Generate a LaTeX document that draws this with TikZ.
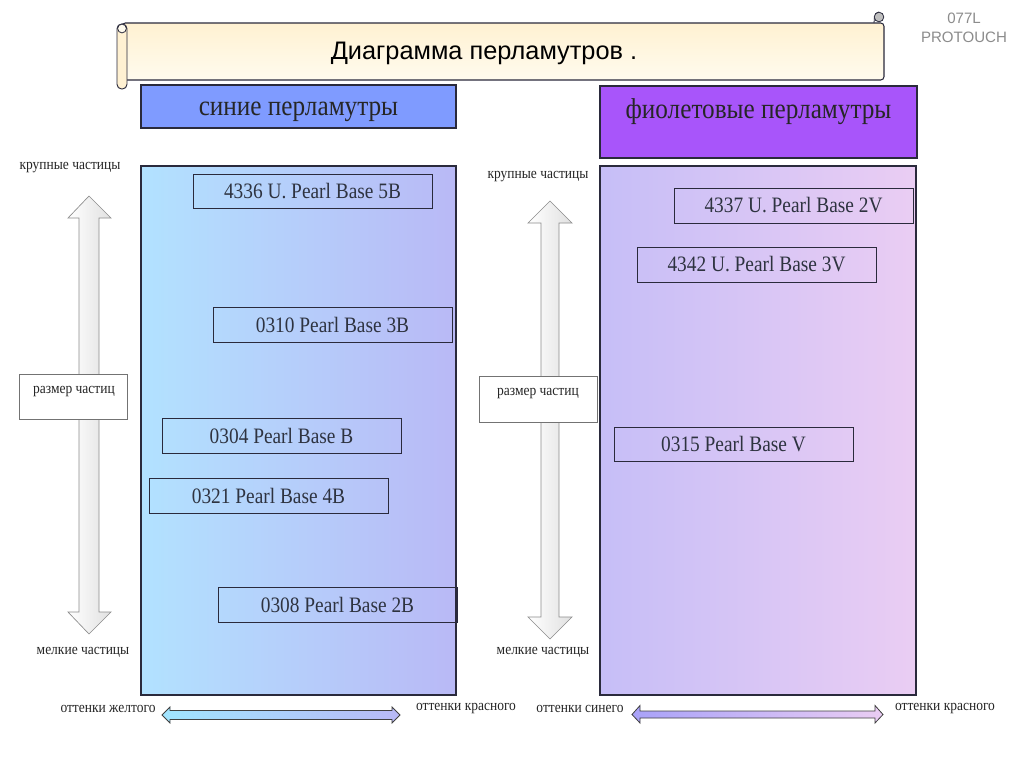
\documentclass[tikz,border=0pt]{standalone}
\usepackage{fontspec}
\setmainfont{Liberation Serif}[FakeStretch=0.88]
\newfontfamily\titlefont{Liberation Sans}
\usetikzlibrary{calc}
\definecolor{bluehdr}{HTML}{7F9BFF}
\definecolor{violethdr}{HTML}{A855FA}
\definecolor{lpL}{HTML}{B2E2FF}
\definecolor{lpR}{HTML}{B9B9F6}
\definecolor{rpL}{HTML}{C6BEF7}
\definecolor{rpR}{HTML}{EACDF3}
\definecolor{edge}{HTML}{2A2A3C}
\definecolor{txt}{HTML}{2E3340}
\definecolor{scrollA}{HTML}{FFF1D2}
\definecolor{scrollB}{HTML}{FFFBEE}
\definecolor{greytxt}{HTML}{8C8C8C}
\tikzset{
  panel/.style={draw=edge, line width=0.8pt, inner sep=0pt},
  hdr/.style={draw=edge, line width=0.8pt, inner sep=0pt},
  pbox/.style={draw=edge, line width=0.7pt, minimum width=179.25pt, minimum height=26.25pt, inner sep=0pt, text=txt, font=\fontsize{16.5}{18}\selectfont},
  hdrtext/.style={text=black!85, font=\fontsize{21.5}{24}\selectfont, inner sep=0pt},
  small/.style={text=black!85, font=\fontsize{11.5}{13}\selectfont, inner sep=0pt},
  sizebox/.style={draw=black!55, line width=0.5pt, fill=white, inner sep=0pt},
  varrow/.style={draw=black!45, line width=0.5pt, left color=white, right color=black!12},
  harrow/.style={draw=black!75, line width=0.6pt},
}
\begin{document}
\begin{tikzpicture}[x=0.75pt,y=-0.75pt]
\useasboundingbox (0,0) rectangle (1024,768);
\fill[white] (0,0) rectangle (1024,768);

% ---- scroll title ----
\draw[edge, line width=0.8pt, top color=scrollA, bottom color=scrollB, rounded corners=2.5pt]
  (122,23) -- (884,23) -- (884,80) -- (122,80) -- cycle;
\draw[edge, line width=0.6pt] (874,23) .. controls (874,16) and (876,12) .. (879,12);
\draw[edge, line width=0.6pt, fill=black!25] (879,17) circle (3.6pt);
\draw[edge, line width=0.7pt, fill=scrollA, rounded corners=3.5pt] (117,24) rectangle (127,89);
\draw[edge, line width=0.6pt, fill=scrollB] (122,28.5) circle (3.3pt);
\node (title) at (484,53) {\titlefont\fontsize{19}{21}\selectfont Диаграмма перламутров .};
\node[text=greytxt, align=center, inner sep=0pt, font={\titlefont\fontsize{11.3}{14.2}\selectfont}] (brand) at (964,27.5) {077L\\PROTOUCH};

% ---- headers ----
\node[hdr, fill=bluehdr, minimum width=236.25pt, minimum height=32.25pt] (hblue) at (298.5,106.5) {};
\node[hdrtext] (hbluet) at (298.5,112) {синие перламутры};
\node[hdr, fill=violethdr, minimum width=237.75pt, minimum height=54pt] (hviol) at (758.5,122) {};
\node[hdrtext] (hviolt) at (758.5,112) {фиолетовые перламутры};

% ---- panels ----
\node[panel, left color=lpL, right color=lpR, minimum width=236.25pt, minimum height=396.75pt] (lpanel) at (298.5,430.5) {};
\node[panel, left color=rpL, right color=rpR, minimum width=237pt, minimum height=396.75pt] (rpanel) at (758,430.5) {};

% ---- pigment boxes ----
\node[pbox, minimum height=25.5pt] (b1) at (312.5,191) {4336 U. Pearl Base 5B};
\node[pbox] (b2) at (332.5,324.5) {0310 Pearl Base 3B};
\node[pbox] (b3) at (281.5,435.5) {0304 Pearl Base B};
\node[pbox] (b4) at (268.5,495.5) {0321 Pearl Base 4B};
\node[pbox] (b5) at (337.5,604.5) {0308 Pearl Base 2B};
\node[pbox] (r1) at (793.5,205.5) {4337 U. Pearl Base 2V};
\node[pbox] (r2) at (756.5,264.5) {4342 U. Pearl Base 3V};
\node[pbox, minimum height=25.5pt] (r3) at (733.5,444) {0315 Pearl Base V};

% ---- vertical size arrows ----
\draw[varrow] (89,196) -- (111,218) -- (99,218) -- (99,612) -- (111,612) -- (89,634)
  -- (68,612) -- (79,612) -- (79,218) -- (68,218) -- cycle;
\draw[varrow] (550,201) -- (572,223) -- (559,223) -- (559,617) -- (572,617) -- (550,639)
  -- (528,617) -- (541,617) -- (541,223) -- (528,223) -- cycle;

\node[sizebox, minimum width=81pt, minimum height=33.75pt] (sz1) at (73,396.5) {};
\node[small] (sz1t) at (74,392) {размер частиц};
\node[sizebox, minimum width=88.5pt, minimum height=34.5pt] (sz2) at (538,399) {};
\node[small] (sz2t) at (538,394) {размер частиц};

\node[small] (big1) at (70,168) {крупные частицы};
\node[small] (big2) at (538,177) {крупные частицы};
\node[small] (fine1) at (83,652) {мелкие частицы};
\node[small] (fine2) at (543,652) {мелкие частицы};

% ---- horizontal hue arrows ----
\node[small] (h1) at (108,709) {оттенки желтого};
\node[small] (h2) at (466,709) {оттенки красного};
\node[small] (h3) at (580,709) {оттенки синего};
\node[small] (h4) at (945,709) {оттенки красного};

\draw[harrow, left color=lpL!90!cyan, right color=lpR] (162,715) -- (170,707) -- (170,710.5) -- (392,710.5) -- (392,707)
  -- (400,715) -- (392,723) -- (392,719.5) -- (170,719.5) -- (170,723) -- cycle;
\draw[harrow, left color=rpL!85!blue, right color=rpR] (632,714.5) -- (640,705.5) -- (640,711) -- (875,711) -- (875,705.5)
  -- (883,714.5) -- (875,723) -- (875,718) -- (640,718) -- (640,723) -- cycle;
\end{tikzpicture}
\end{document}
